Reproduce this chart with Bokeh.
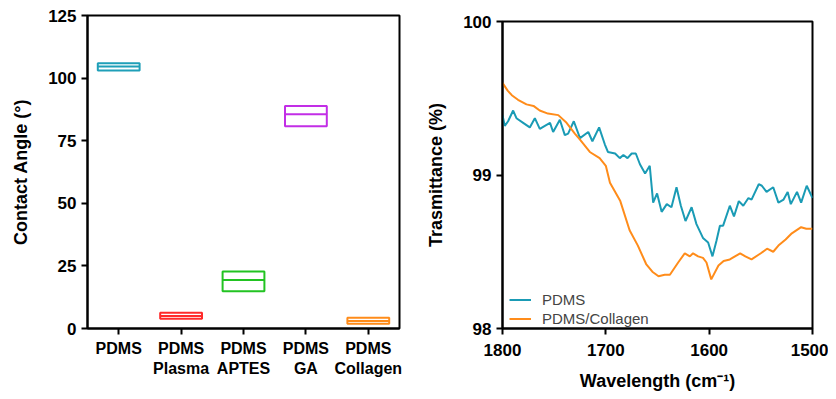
from bokeh.plotting import figure
from bokeh.layouts import row, column
from bokeh.models import FactorRange, Range1d, FixedTicker, Legend, LegendItem
from bokeh.transform import dodge
from bokeh.embed import file_html
from bokeh.resources import INLINE

# ---------------- data: contact angle ----------------
categories = ["PDMS", "PDMS\nPlasma", "PDMS\nAPTES", "PDMS\nGA", "PDMS\nCollagen"]
angle_min = [103.0, 3.9, 14.9, 80.8, 1.9]
angle_max = [105.9, 6.3, 22.8, 88.9, 4.3]
angle_med = [104.6, 5.0, 19.4, 85.6, 3.0]
box_colors = ["#1f9fb8", "#ff2a2a", "#22c322", "#c22ee6", "#ff8c1a"]
y_ticks_left = [0, 25, 50, 75, 100, 125]

# ---------------- data: FTIR ----------------
wn_pdms = [1800, 1797.8, 1794.6, 1789.7, 1786.5, 1780, 1773.6, 1768.7, 1763.9, 1759, 1754,
           1751, 1744.5, 1739.7, 1736.5, 1731, 1725, 1717, 1713, 1706.5, 1701, 1698, 1691,
           1686.5, 1683, 1679, 1675, 1671, 1667, 1662, 1657.5, 1654.2, 1650.4, 1646, 1641,
           1636.5, 1631.6, 1627.4, 1622.9, 1617, 1612.3, 1606, 1601, 1596.8, 1593, 1589.6,
           1586.5, 1580, 1576, 1571.3, 1567, 1562, 1559, 1552, 1549, 1544.5, 1538, 1533,
           1528, 1524, 1521, 1515, 1511, 1505.6, 1500]
t_pdms = [99.39, 99.32, 99.35, 99.42, 99.37, 99.34, 99.31, 99.37, 99.30, 99.32, 99.34,
          99.28, 99.36, 99.26, 99.27, 99.35, 99.24, 99.28, 99.22, 99.31, 99.20, 99.15, 99.14,
          99.11, 99.13, 99.11, 99.14, 99.14, 99.07, 99.01, 99.06, 98.82, 98.88, 98.76, 98.81,
          98.79, 98.92, 98.80, 98.70, 98.79, 98.68, 98.59, 98.56, 98.47, 98.57, 98.67,
          98.67, 98.80, 98.73, 98.83, 98.80, 98.85, 98.84, 98.94, 98.93, 98.89, 98.92, 98.82,
          98.84, 98.89, 98.81, 98.89, 98.82, 98.93, 98.85]
wn_col = [1800, 1795, 1791, 1785, 1776.8, 1770, 1764, 1756, 1746, 1738, 1730, 1725, 1715.5,
          1706, 1700, 1696, 1686, 1677, 1669, 1661, 1655, 1649, 1643, 1638, 1630, 1623.6,
          1618.7, 1615.6, 1610.7, 1606, 1602.6, 1598, 1591, 1586, 1580, 1570, 1565, 1559,
          1550, 1544, 1538, 1533, 1526, 1520, 1511, 1506, 1500]
t_col = [99.60, 99.55, 99.52, 99.49, 99.46, 99.45, 99.42, 99.40, 99.39, 99.34, 99.27, 99.23, 99.15,
         99.11, 99.06, 98.95, 98.83, 98.64, 98.54, 98.42, 98.37, 98.34, 98.35, 98.35, 98.43, 98.49,
         98.47, 98.49, 98.47, 98.46, 98.43, 98.32, 98.41, 98.44, 98.45, 98.49, 98.47, 98.45,
         98.49, 98.52, 98.50, 98.54, 98.58, 98.62, 98.66, 98.65, 98.65]
x_ticks_right = [1800, 1700, 1600, 1500]
y_ticks_right = [98, 99, 100]

FONT = "Liberation Sans"


def style_axes(p):
    for ax in (p.xaxis[0], p.yaxis[0]):
        ax.axis_line_width = 2
        ax.axis_line_color = "black"
        ax.major_tick_line_width = 2
        ax.major_tick_line_color = "black"
        ax.major_tick_out = 6
        ax.major_tick_in = 0
        ax.minor_tick_line_color = None
        ax.major_label_text_font = FONT
        ax.major_label_text_font_style = "bold"
        ax.major_label_text_color = "black"
        ax.axis_label_text_font = FONT
        ax.axis_label_text_font_style = "bold"
        ax.axis_label_text_color = "black"
        ax.axis_label_text_font_size = "18px"
    p.xgrid.visible = False
    p.ygrid.visible = False
    p.outline_line_color = "black"
    p.outline_line_width = 2
    p.outline_line_alpha = 1.0


# ---------------- left figure ----------------
p1 = figure(width=420, height=388, x_range=FactorRange(*categories), y_range=Range1d(0, 125),
            output_backend="svg", toolbar_location=None,
            min_border_left=87, min_border_right=21, min_border_top=15, min_border_bottom=60)
p1.vbar(x=categories, bottom=angle_min, top=angle_max, width=0.67,
        fill_color=None, line_color=box_colors, line_width=2)
src = dict(cat=categories, med=angle_med, col=box_colors)
p1.segment(x0=dodge("cat", -0.335, range=p1.x_range), x1=dodge("cat", 0.335, range=p1.x_range),
           y0="med", y1="med", line_color="col", line_width=2, source=src)
style_axes(p1)
p1.yaxis.ticker = FixedTicker(ticks=y_ticks_left)
p1.yaxis.axis_label = "Contact Angle (°)"
p1.yaxis.major_label_text_font_size = "17px"
p1.xaxis.major_label_text_font_size = "16px"
p1.xaxis.major_label_standoff = 5
p1.yaxis.axis_label_standoff = 14
p1.x_range.range_padding = 0

# ---------------- right figure ----------------
p2 = figure(width=408, height=396, x_range=Range1d(1800, 1500), y_range=Range1d(98, 100),
            output_backend="svg", toolbar_location=None,
            min_border_left=82, min_border_right=16, min_border_top=21, min_border_bottom=68)
r_pdms = p2.line(wn_pdms, t_pdms, line_color="#1a9bb5", line_width=2)
r_col = p2.line(wn_col, t_col, line_color="#ff8c1a", line_width=2)
style_axes(p2)
p2.xaxis.ticker = FixedTicker(ticks=x_ticks_right)
p2.yaxis.ticker = FixedTicker(ticks=y_ticks_right)
p2.xaxis.major_label_text_font_size = "17px"
p2.yaxis.major_label_text_font_size = "17px"
p2.xaxis.axis_label = "Wavelength (cm⁻¹)"
p2.yaxis.axis_label = "Trasmittance (%)"
p2.xaxis.major_label_standoff = 9
p2.xaxis.axis_label_standoff = 12
p2.yaxis.axis_label_standoff = 14

legend = Legend(items=[LegendItem(label="PDMS", renderers=[r_pdms]),
                       LegendItem(label="PDMS/Collagen", renderers=[r_col])],
                location=(7, 0))
legend.background_fill_alpha = 0
legend.border_line_color = None
legend.label_text_font = FONT
legend.label_text_font_size = "15px"
legend.glyph_width = 22
legend.glyph_height = 19
legend.label_height = 19
legend.spacing = 0
legend.padding = 5
legend.margin = 0
legend.label_standoff = 11
p2.add_layout(legend, "center")

layout = row(p1, column(p2))
open("out.html", "w").write(file_html(layout, INLINE))
